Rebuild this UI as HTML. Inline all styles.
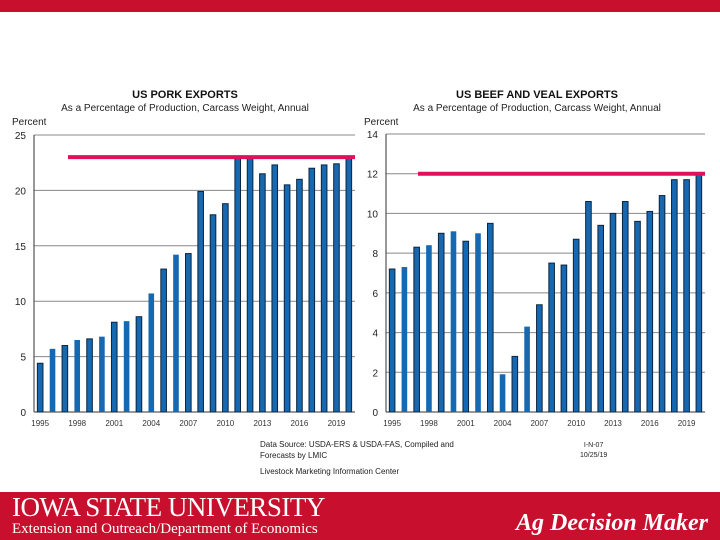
<!DOCTYPE html>
<html><head><meta charset="utf-8"><style>
body{margin:0;width:720px;height:540px;overflow:hidden;background:#fff;font-family:"Liberation Sans",sans-serif;position:relative}
</style></head><body>
<div style="position:absolute;left:0;top:0;width:720px;height:12px;background:#c8102e"></div>
<svg id="chart" width="720" height="490" style="position:absolute;left:0;top:0"></svg>
<div style="position:absolute;left:260px;top:439px;font-size:8px;line-height:11px;color:#222">Data Source: USDA-ERS &amp; USDA-FAS, Compiled and<br>Forecasts by LMIC</div>
<div style="position:absolute;left:580px;top:441px;font-size:7px;line-height:10px;color:#222;text-align:center">I-N-07<br>10/25/19</div>
<div style="position:absolute;left:260px;top:467px;font-size:8px;color:#222">Livestock Marketing Information Center</div>
<div style="position:absolute;left:0;top:492px;width:720px;height:48px;background:#c8102e;color:#fff">
<div style="position:absolute;left:12px;top:0px;font-family:'Liberation Serif',serif;font-size:27px;letter-spacing:-0.5px">IOWA STATE UNIVERSITY</div>
<div style="position:absolute;left:12px;top:29px;font-family:'Liberation Serif',serif;font-size:15px">Extension and Outreach/Department of Economics</div>
<div style="position:absolute;right:12px;top:18px;font-family:'Liberation Serif',serif;font-size:24px;font-style:italic;font-weight:bold">Ag Decision Maker</div>
</div>
<script>
const years=[1995,1996,1997,1998,1999,2000,2001,2002,2003,2004,2005,2006,2007,2008,2009,2010,2011,2012,2013,2014,2015,2016,2017,2018,2019,2020];
const yearLabels=["1995","1998","2001","2004","2007","2010","2013","2016","2019"];
const porkValues=[4.4,5.7,6.0,6.5,6.6,6.8,8.1,8.2,8.6,10.7,12.9,14.2,14.3,19.9,17.8,18.8,22.9,23.1,21.5,22.3,20.5,21.0,22.0,22.3,22.4,22.9];
const beefValues=[7.2,7.3,8.3,8.4,9.0,9.1,8.6,9.0,9.5,1.9,2.8,4.3,5.4,7.5,7.4,8.7,10.6,9.4,10.0,10.6,9.6,10.1,10.9,11.7,11.7,12.0];
const porkTicks=[0,5,10,15,20,25];
const beefTicks=[0,2,4,6,8,10,12,14];
const porkRecord=[23];
const beefRecord=[12];
const svg=document.getElementById('chart');
const NS='http://www.w3.org/2000/svg';
function mk(tag,attrs,parent){const e=document.createElementNS(NS,tag);for(const k in attrs)e.setAttribute(k,attrs[k]);(parent||svg).appendChild(e);return e;}
function drawChart(o){
  const g=mk('g',{});
  
  
  const y=v=>o.y0-(v/o.max)*(o.y0-o.yTop);
  const bw=(o.right-o.left)/o.cats.length;
  const x=i=>o.left+bw*(i+0.5);
  const t1=mk('text',{x:o.titleX,y:98,'text-anchor':'middle','font-size':11,'font-weight':'bold',fill:'#111'},g);t1.textContent=o.title;
  
  const t2=mk('text',{x:o.titleX,y:111,'text-anchor':'middle','font-size':10,fill:'#222'},g);t2.textContent='As a Percentage of Production, Carcass Weight, Annual';
  
  const t3=mk('text',{x:o.left-22,y:125,'font-size':10,fill:'#222'},g);t3.textContent='Percent';
  
  o.ticks.forEach(v=>{
    if(v>0){const l=mk('line',{x1:o.left,x2:o.right,y1:y(v),y2:y(v),stroke:'#888','stroke-width':1},g);
      }
    const t=mk('text',{x:o.left-8,y:y(v)+4,'text-anchor':'end','font-size':10,fill:'#222'},g);t.textContent=v;
    
  });
  mk('line',{x1:o.left,x2:o.left,y1:o.yTop,y2:o.y0,stroke:'#333'},g);
  mk('line',{x1:o.left,x2:o.right,y1:o.y0,y2:o.y0,stroke:'#333'},g);
  o.vals.forEach((v,i)=>{
    const r=mk('rect',{x:x(i)-2.8,y:y(v),width:5.6,height:o.y0-y(v),fill:'#1668b0',stroke:(i%2==0||i>12)?'#0b2540':'none','stroke-width':1},g);
    
  });
  o.cats.forEach((c,i)=>{
    if(yearLabels.indexOf(String(c))<0)return;
    const t=mk('text',{x:x(i),y:o.y0+14,'text-anchor':'middle','font-size':8,fill:'#333'},g);t.textContent=c;
    
  });
  const rl=mk('line',{x1:o.lineStart,x2:o.right,y1:y(o.record[0]),y2:y(o.record[0]),stroke:'#e0105a','stroke-width':4},g);
  
}
drawChart({name:'pork-exports-chart',title:'US PORK EXPORTS',titleX:185,cats:years,vals:porkValues,ticks:porkTicks,max:25,left:34,right:355,y0:412,yTop:135,record:porkRecord,lineStart:68});
drawChart({name:'beef-exports-chart',title:'US BEEF AND VEAL EXPORTS',titleX:537,cats:years,vals:beefValues,ticks:beefTicks,max:14,left:386,right:705,y0:412,yTop:134,record:beefRecord,lineStart:418});
</script>
</body></html>
